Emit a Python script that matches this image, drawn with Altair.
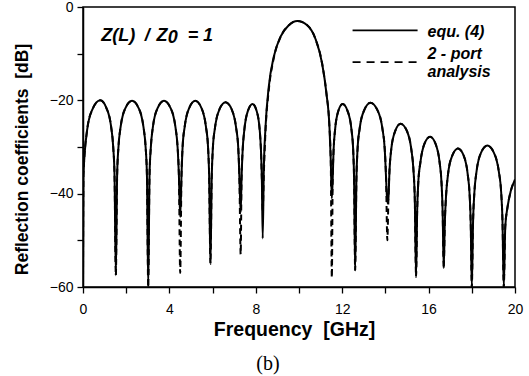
import altair as alt
import pandas as pd

# ---------------- data ----------------
freq = [
    0.00, 0.02, 0.19, 0.42, 0.80, 1.08, 1.30, 1.40, 1.46, 1.52,
    1.58, 1.64, 1.745, 1.97, 2.27, 2.57, 2.795, 2.90, 2.96, 3.02,
    3.08, 3.14, 3.24, 3.46, 3.75, 4.05, 4.275, 4.38, 4.44, 4.50,
    4.56, 4.61, 4.71, 4.92, 5.20, 5.48, 5.69, 5.79, 5.84, 5.90,
    5.96, 6.01, 6.11, 6.32, 6.60, 6.88, 7.09, 7.19, 7.24, 7.30,
    7.34, 7.39, 7.47, 7.63, 7.85, 8.04, 8.18, 8.24, 8.28, 8.32,
    8.37, 8.45, 8.60, 8.83, 9.14, 9.53, 9.92, 10.38, 10.76, 11.07, 11.27, 11.41, 11.47, 11.52,
    11.56, 11.60, 11.67, 11.82, 12.02, 12.25, 12.43, 12.51, 12.55, 12.60,
    12.66, 12.71, 12.81, 13.03, 13.31, 13.62, 13.86, 13.97, 14.03, 14.09,
    14.14, 14.19, 14.27, 14.46, 14.70, 14.99, 15.20, 15.30, 15.36, 15.42,
    15.47, 15.52, 15.62, 15.81, 16.07, 16.32, 16.51, 16.60, 16.65, 16.70,
    16.75, 16.81, 16.90, 17.10, 17.36, 17.62, 17.81, 17.90, 17.95, 18.00,
    18.06, 18.12, 18.22, 18.43, 18.72, 19.02, 19.25, 19.36, 19.42, 19.48,
    19.55, 19.65, 19.80, 20.00,
]

equ4_db = [
    -60, -36, -26.4, -22.1, -20.0, -21.6, -25.6, -30.1, -36.1, -57.5,
    -36.1, -30.1, -25.6, -21.6, -20.1, -21.6, -25.6, -30.1, -36.1, -60,
    -36.1, -30.1, -25.6, -21.6, -20.1, -21.6, -25.6, -30.1, -36.1, -45,
    -36.1, -30.1, -25.6, -21.6, -20.1, -21.6, -25.6, -30.1, -36.1, -55,
    -36.4, -30.4, -25.9, -21.9, -20.4, -21.9, -25.9, -30.4, -36.4, -44,
    -36.8, -30.8, -26.3, -22.3, -20.8, -22.3, -26.3, -30.8, -36.8, -49.6,
    -35, -25.7, -17.1, -10.7, -6.4, -3.9, -3.0, -3.9, -6.8, -12.1, -18.5, -25.7, -32.8, -41,
    -36.8, -30.8, -26.3, -22.3, -20.8, -22.3, -26.3, -30.8, -36.8, -56.4,
    -36.5, -30.5, -26.0, -22.0, -20.5, -22.0, -26.0, -30.5, -36.5, -42,
    -41, -35, -30.5, -26.5, -25.0, -26.5, -30.5, -35, -41, -57.8,
    -43.8, -37.8, -33.3, -29.3, -27.8, -29.3, -33.3, -37.8, -43.8, -56,
    -46.3, -40.3, -35.8, -31.8, -30.3, -31.8, -35.8, -40.3, -46.3, -60,
    -45.7, -39.7, -35.2, -31.2, -29.7, -31.2, -35.2, -39.7, -45.7, -60,
    -47, -43, -39.5, -37,
]

twoport_db = [
    -60, -36, -26.4, -22.1, -20.0, -21.6, -25.6, -30.1, -36.1, -57.5,
    -36.1, -30.1, -25.6, -21.6, -20.1, -21.6, -25.6, -30.1, -36.1, -60,
    -36.1, -30.1, -25.6, -21.6, -20.1, -21.6, -25.6, -30.1, -36.1, -57,
    -36.1, -30.1, -25.6, -21.6, -20.1, -21.6, -25.6, -30.1, -36.1, -55,
    -36.4, -30.4, -25.9, -21.9, -20.4, -21.9, -25.9, -30.4, -36.4, -53,
    -36.8, -30.8, -26.3, -22.3, -20.8, -22.3, -26.3, -30.8, -36.8, -44,
    -36, -26.5, -17.8, -11.0, -6.5, -3.9, -3.0, -3.9, -6.8, -12.1, -18.5, -25.7, -32.8, -58,
    -36.8, -30.8, -26.3, -22.3, -20.8, -22.3, -26.3, -30.8, -36.8, -56.4,
    -36.5, -30.5, -26.0, -22.0, -20.5, -22.0, -26.0, -30.5, -36.5, -50,
    -41, -35, -30.5, -26.5, -25.0, -26.5, -30.5, -35, -41, -57.8,
    -43.8, -37.8, -33.3, -29.3, -27.8, -29.3, -33.3, -37.8, -43.8, -56,
    -46.3, -40.3, -35.8, -31.8, -30.3, -31.8, -35.8, -40.3, -46.3, -60,
    -45.7, -39.7, -35.2, -31.2, -29.7, -31.2, -35.2, -39.7, -45.7, -60,
    -47, -43, -39.5, -37,
]

x_ticks = [0, 2, 4, 6, 8, 10, 12, 14, 16, 18, 20]
y_ticks = [-60, -50, -40, -30, -20, -10, 0]

legend_labels = ["equ. (4)", "2 - port", "analysis"]
annotation_parts = ["Z(L)", "/", "Z", "0", "=", "1"]

# ---------------------------------------------------------------
df = pd.DataFrame({"f": freq, "equ4": equ4_db, "twoport": twoport_db})

FONT = "Liberation Sans"
xs = alt.Scale(domain=[0, 20], nice=False, zero=False)
ys = alt.Scale(domain=[-60, 0], nice=False, zero=False)

x_axis = alt.Axis(
    values=x_ticks, labelExpr="datum.value % 4 == 0 ? datum.label : ''",
    title="Frequency\u00a0\u00a0[GHz]", grid=False, tickSize=6, labelPadding=9,
    labelFont=FONT, labelFontSize=14, titleFont=FONT, titleFontSize=19.5,
    titleFontWeight="bold", titlePadding=4, titleX=211, labelFlush=False,
)
y_axis = alt.Axis(
    values=y_ticks, labelExpr="datum.value % 20 == 0 ? datum.label : ''",
    title="Reflection coefficients\u00a0\u00a0[dB]", grid=False, tickSize=6,
    labelPadding=4, labelFont=FONT, labelFontSize=14, titleFont=FONT,
    titleFontSize=17.5, titleFontWeight="bold", titlePadding=18, titleY=152,
    labelFlush=False,
)


def X(field):
    return alt.X(field, scale=xs, axis=x_axis)


def Y(field):
    return alt.Y(field, scale=ys, axis=y_axis)


solid = alt.Chart(df).mark_line(
    color="black", strokeWidth=2.0, interpolate="monotone", clip=True
).encode(x=X("f:Q"), y=Y("equ4:Q"))

dashed = alt.Chart(df).mark_line(
    color="black", strokeWidth=2.0, strokeDash=[6, 4], interpolate="monotone", clip=True
).encode(x=X("f:Q"), y=Y("twoport:Q"))

# legend (placed in data coordinates)
leg_solid_df = pd.DataFrame({"f": [12.48], "f2": [15.49], "y": [-5.0]})
leg_dash_df = pd.DataFrame({"f": [12.48], "f2": [15.49], "y": [-11.8]})
leg_solid = alt.Chart(leg_solid_df).mark_rule(color="black", strokeWidth=1.8).encode(
    x=X("f:Q"), x2="f2:Q", y=Y("y:Q"))
leg_dash = alt.Chart(leg_dash_df).mark_rule(
    color="black", strokeWidth=1.8, strokeDash=[8, 6]).encode(
    x=X("f:Q"), x2="f2:Q", y=Y("y:Q"))

leg_text_df = pd.DataFrame({"f": [15.95, 15.95, 15.95], "y": [-5.3, -10.1, -14.0],
                            "t": legend_labels})
leg_text = alt.Chart(leg_text_df).mark_text(
    align="left", baseline="middle", font=FONT, fontSize=16,
    fontWeight="bold", fontStyle="italic", color="black",
).encode(x=X("f:Q"), y=Y("y:Q"), text="t:N")

# annotation Z(L) / Z0 = 1
ann_df = pd.DataFrame({
    "f": [0.85, 2.86, 3.40, 3.92, 4.85, 5.55],
    "y": [-7.3, -7.3, -7.3, -7.8, -7.3, -7.3],
    "t": annotation_parts,
})
ann = alt.Chart(ann_df).mark_text(
    align="left", baseline="alphabetic", font=FONT, fontSize=18,
    fontWeight="bold", fontStyle="italic", color="black",
).encode(x=X("f:Q"), y=Y("y:Q"), text="t:N")

chart = alt.layer(solid, dashed, leg_solid, leg_dash, leg_text, ann).properties(
    width=432, height=280,
    autosize=alt.AutoSizeParams(type="none"),
    padding={"left": 83, "top": 7, "right": 14, "bottom": 89},
    title=alt.TitleParams(
        "(b)", orient="bottom", anchor="middle", font="Liberation Serif",
        fontSize=20, fontWeight="normal", color="black", offset=15, dx=-31,
    ),
).configure_view(
    stroke="black", strokeWidth=1.5
).configure_axis(
    domainColor="black", domainWidth=1.5, tickColor="black", tickWidth=1.3,
    labelColor="black", titleColor="black",
)

chart.save("out.html", embed_options={"renderer": "svg", "actions": False})
